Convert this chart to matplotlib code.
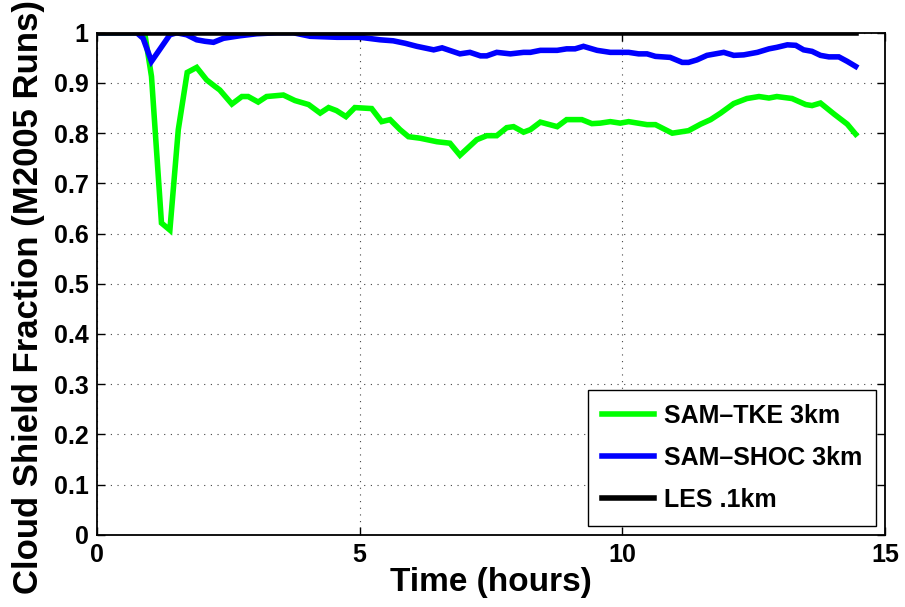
import matplotlib
matplotlib.use("Agg")
import matplotlib.pyplot as plt

# SAM-TKE 3km (green)
tke_t = [0.0, 0.91, 1.04, 1.23, 1.39, 1.55, 1.72, 1.90, 2.09, 2.25, 2.34, 2.57, 2.76, 2.88,
         3.07, 3.23, 3.55, 3.77, 4.03, 4.25, 4.41, 4.56, 4.74, 4.91, 5.23, 5.42, 5.58,
         5.77, 5.93, 6.15, 6.47, 6.72, 6.91, 7.23, 7.42, 7.61, 7.80, 7.93, 8.12, 8.25,
         8.44, 8.76, 8.94, 9.23, 9.42, 9.58, 9.77, 9.96, 10.12, 10.47, 10.63, 10.95,
         11.26, 11.49, 11.68, 11.87, 12.12, 12.37, 12.60, 12.79, 12.94, 13.23, 13.49,
         13.61, 13.77, 14.03, 14.28, 14.44]
tke_v = [1.0, 1.0, 0.913, 0.621, 0.607, 0.807, 0.921, 0.931, 0.906, 0.893, 0.886, 0.858,
         0.873, 0.873, 0.862, 0.873, 0.876, 0.865, 0.857, 0.840, 0.851, 0.845, 0.833,
         0.851, 0.849, 0.823, 0.827, 0.807, 0.793, 0.790, 0.783, 0.780, 0.756, 0.787,
         0.795, 0.795, 0.811, 0.813, 0.802, 0.807, 0.822, 0.813, 0.827, 0.827, 0.819,
         0.820, 0.823, 0.820, 0.823, 0.817, 0.817, 0.800, 0.805, 0.818, 0.827, 0.840,
         0.859, 0.869, 0.873, 0.870, 0.873, 0.869, 0.857, 0.855, 0.860, 0.838, 0.818,
         0.798]

# SAM-SHOC 3km (blue)
shoc_t = [0.0, 0.76, 0.88, 1.04, 1.39, 1.52, 1.71, 1.90, 2.06, 2.22, 2.41, 2.72, 3.04,
          3.42, 3.74, 4.06, 4.57, 5.01, 5.39, 5.64, 5.87, 6.09, 6.41, 6.57, 6.91, 7.10,
          7.30, 7.42, 7.61, 7.87, 8.12, 8.25, 8.44, 8.76, 8.94, 9.10, 9.26, 9.52, 9.77,
          10.12, 10.31, 10.47, 10.63, 10.91, 11.14, 11.26, 11.42, 11.61, 11.93, 12.12,
          12.31, 12.57, 12.79, 12.94, 13.14, 13.30, 13.45, 13.61, 13.77, 13.93, 14.12,
          14.28, 14.44]
shoc_v = [1.0, 1.0, 0.989, 0.943, 0.996, 1.0, 0.996, 0.986, 0.983, 0.981, 0.989, 0.994,
          0.998, 1.0, 1.0, 0.993, 0.991, 0.991, 0.986, 0.984, 0.979, 0.973, 0.966, 0.970,
          0.958, 0.961, 0.954, 0.954, 0.961, 0.958, 0.961, 0.961, 0.965, 0.965, 0.968,
          0.968, 0.973, 0.965, 0.961, 0.961, 0.958, 0.958, 0.953, 0.951, 0.941, 0.941,
          0.946, 0.955, 0.961, 0.955, 0.956, 0.961, 0.968, 0.971, 0.976, 0.975, 0.966,
          0.963, 0.955, 0.952, 0.952, 0.943, 0.933]

# LES .1km (black)
les_t = [0.0, 14.44]
les_v = [1.0, 1.0]

labels = ["SAM\u2013TKE 3km", "SAM\u2013SHOC 3km", "LES .1km"]
ytick_labels = ["0", "0.1", "0.2", "0.3", "0.4", "0.5", "0.6", "0.7", "0.8", "0.9", "1"]

plt.rcParams["font.family"] = ["Liberation Sans", "DejaVu Sans"]

fig = plt.figure(figsize=(9.05, 6.07), dpi=100)
ax = fig.add_axes([0.107, 0.119, 0.871, 0.827])

ax.plot(tke_t, tke_v, color="#00ff00", lw=4, label=labels[0], solid_joinstyle="miter")
ax.plot(shoc_t, shoc_v, color="#0000ff", lw=4, label=labels[1], solid_joinstyle="miter")
ax.plot(les_t, les_v, color="black", lw=4, label=labels[2])

ax.set_xlim(0, 15)
ax.set_ylim(0, 1)
ax.set_xticks([0, 5, 10, 15])
ax.set_yticks([i / 10 for i in range(11)])
ax.set_yticklabels(ytick_labels)
ax.grid(True, linestyle=(0, (1, 5)), color="#444444", lw=0.8)
ax.tick_params(direction="in", length=6, width=1, top=True, right=True, labelsize=18, pad=6)
for lab in ax.get_xticklabels() + ax.get_yticklabels():
    lab.set_fontweight("bold")
for sp in ax.spines.values():
    sp.set_linewidth(1.3)

ax.set_xlabel("Time (hours)", fontsize=24, fontweight="bold", labelpad=0)
ax.set_ylabel("Cloud Shield Fraction (M2005 Runs)", fontsize=25, fontweight="bold")
ax.yaxis.set_label_coords(-0.066, 0.474)

leg = ax.legend(loc="lower right", prop={"weight": "bold", "size": 18},
                frameon=True, fancybox=False, edgecolor="black", handlelength=2.1,
                handletextpad=0.4, borderpad=0.55, labelspacing=0.72,
                borderaxespad=0, bbox_to_anchor=(0.989, 0.018))
leg.get_frame().set_linewidth(1.0)
leg.get_frame().set_alpha(1)

fig.savefig("out.png", dpi=100)
